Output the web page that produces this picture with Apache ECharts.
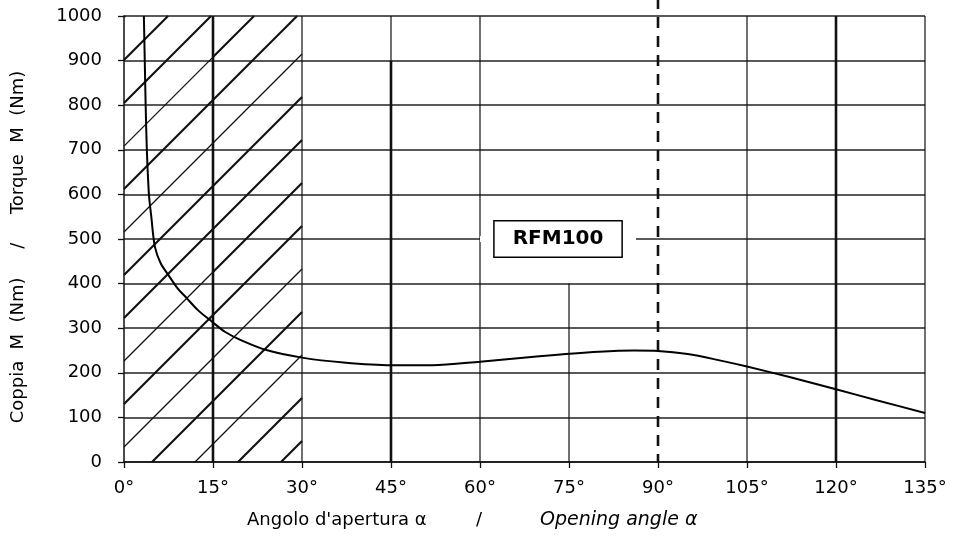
<!DOCTYPE html>
<html>
<head>
<meta charset="utf-8">
<script src="https://cdn.jsdelivr.net/npm/echarts@6/dist/echarts.min.js"></script>
<style>html,body{margin:0;padding:0;background:#fff}#c{width:955px;height:537px}</style>
</head>
<body>
<div id="c"></div>
<script>
// ---- data ----
const angleTicks = [0, 15, 30, 45, 60, 75, 90, 105, 120, 135];
const torqueTicks = [0, 100, 200, 300, 400, 500, 600, 700, 800, 900, 1000];
const curveAngle  = [3.35, 3.5, 3.65, 3.85, 4.2, 4.6, 5.2, 6.2, 7.5, 9, 10.6, 12.5, 14.8, 17, 19.6, 24, 30, 37, 45, 52, 60, 70, 80, 86, 90, 95, 100, 105, 112, 120, 127, 135];
const curveTorque = [1000, 900, 800, 700, 600, 550, 483, 445, 419, 390, 367, 340, 315, 292, 274, 251, 234, 223, 217, 217, 225, 237, 247, 250, 249, 242, 229, 214, 191, 163, 138, 110];
const thickVerticals = [15, 120];
const thinVerticals = [30, 60, 105, 135];
const thick45Range = [45, 0, 900];
const thin45Range = [45, 900, 1000];
const partial75Range = [75, 0, 400];
const dashedAngle = 90;
const label = 'RFM100';
const labelPos = [73.15, 500];
const hatchRange = [0, 30];
const hatchOffsetNm = 33.6;
const hatchStepNm = 96.4;
const hatchIdx = [-4,-3,-2,-1,0,1,2,3,4,5,6,7,8,9,10];
const hatchThinLeft = [-2, 0, 2, 5, 7];
const hatchThinRight = [-2, 0, 5];

const curve = curveAngle.map((a, i) => [a, curveTorque[i]]);
const THICK = 2.6, THIN = 1.2, INK = '#111';
const font = 'DejaVu Sans';

const chart = echarts.init(document.getElementById('c'), null, {renderer: 'canvas'});
chart.setOption({
  animation: false,
  backgroundColor: '#fff',
  textStyle: {fontFamily: font},
  grid: {left: 124, right: 30, top: 16, bottom: 75, containLabel: false},
  xAxis: {
    type: 'value', min: 0, max: 135, interval: 15,
    axisLine: {show: true, lineStyle: {color: INK, width: 1.5}},
    axisTick: {show: true, length: 6, lineStyle: {color: INK, width: 1.3}},
    axisLabel: {color: '#000', fontSize: 18, margin: 17, fontFamily: font, formatter: v => v + '°'},
    splitLine: {show: false}
  },
  yAxis: {
    type: 'value', min: 0, max: 1000, interval: 100,
    axisLine: {show: true, lineStyle: {color: INK, width: 1.5}},
    axisTick: {show: true, length: 6, lineStyle: {color: INK, width: 1.3}},
    axisLabel: {color: '#000', fontSize: 18, margin: 22, fontFamily: font, formatter: v => String(v)},
    splitLine: {show: true, lineStyle: {color: '#222', width: 1.5}}
  },
  graphic: [
    {type: 'text', left: 247, top: 511, silent: true,
     style: {text: "Angolo d'apertura α", fontSize: 18, fontFamily: font, fill: '#000'}},
    {type: 'text', left: 476, top: 511, silent: true,
     style: {text: '/', fontSize: 18, fontFamily: font, fill: '#000'}},
    {type: 'text', left: 540, top: 511, silent: true,
     style: {text: 'Opening angle α', fontSize: 19, fontFamily: font, fontStyle: 'italic', fill: '#000'}},
    {type: 'text', x: 18, y: 247, rotation: Math.PI / 2, silent: true,
     style: {text: 'Coppia  M  (Nm)     /     Torque  M  (Nm)', fontSize: 18, fontFamily: font, fill: '#000',
             align: 'center', verticalAlign: 'middle'}}
  ],
  series: [
    {
      // hatching over 0°–30°
      type: 'custom', silent: true, z: 2,
      data: [[0, 0]],
      renderItem: function (params, api) {
        const o = api.coord([hatchRange[0], 0]);
        const e = api.coord([hatchRange[1], 1000]);
        const W = e[0] - o[0], H = o[1] - e[1];
        const kx = W / (hatchRange[1] - hatchRange[0]);
        const ky = H / 1000;
        const uMid = 15 * kx;
        const children = [];
        hatchIdx.forEach(n => {
          const c = (hatchOffsetNm + n * hatchStepNm) * ky;
          const u0 = Math.max(0, -c), u1 = Math.min(W, H - c);
          if (u1 <= u0) return;
          const parts = [[u0, Math.min(u1, uMid), hatchThinLeft.includes(n) ? THIN : 2.1],
                         [Math.max(u0, uMid), u1, hatchThinRight.includes(n) ? THIN : 2.1]];
          parts.forEach(p => {
            if (p[1] <= p[0]) return;
            children.push({
              type: 'line',
              shape: {x1: o[0] + p[0], y1: o[1] - (c + p[0]), x2: o[0] + p[1], y2: o[1] - (c + p[1])},
              style: {stroke: INK, lineWidth: p[2]}
            });
          });
        });
        return {type: 'group', children: children};
      }
    },
    {
      // vertical guide lines
      type: 'custom', silent: true, z: 3, clip: false,
      data: [[0, 0]],
      renderItem: function (params, api) {
        const children = [];
        const seg = (x, y0, y1, w, dash) => {
          const a = api.coord([x, y0]), b = api.coord([x, y1]);
          children.push({type: 'line', shape: {x1: a[0], y1: a[1], x2: b[0], y2: b[1]},
            style: {stroke: INK, lineWidth: w, lineDash: dash || null}});
        };
        thickVerticals.forEach(v => seg(v, 0, 1000, THICK));
        thinVerticals.forEach(v => seg(v, 0, 1000, THIN));
        seg(thick45Range[0], thick45Range[1], thick45Range[2], THICK);
        seg(thin45Range[0], thin45Range[1], thin45Range[2], THIN);
        seg(partial75Range[0], partial75Range[1], partial75Range[2], THIN);
        const a = api.coord([dashedAngle, 0]);
        children.push({type: 'line', shape: {x1: a[0], y1: a[1], x2: a[0], y2: 0},
          style: {stroke: INK, lineWidth: 2.6, lineDash: [11, 8], lineDashOffset: 3}});
        return {type: 'group', children: children};
      }
    },
    {
      type: 'line', data: curve, showSymbol: false, smooth: 0.3,
      lineStyle: {color: '#000', width: 2}, silent: true, z: 4, clip: true,
      markPoint: {
        silent: true, animation: false,
        data: [{
          coord: labelPos, symbol: 'rect', symbolSize: [156, 6],
          itemStyle: {color: '#fff'},
          label: {
            show: true, position: 'inside', formatter: label,
            color: '#000', fontSize: 20, fontWeight: 'bold', fontFamily: font,
            backgroundColor: '#fff', borderColor: '#000', borderWidth: 1.5,
            padding: [8, 18, 7, 18]
          }
        }]
      }
    }
  ]
});
</script>
</body>
</html>
